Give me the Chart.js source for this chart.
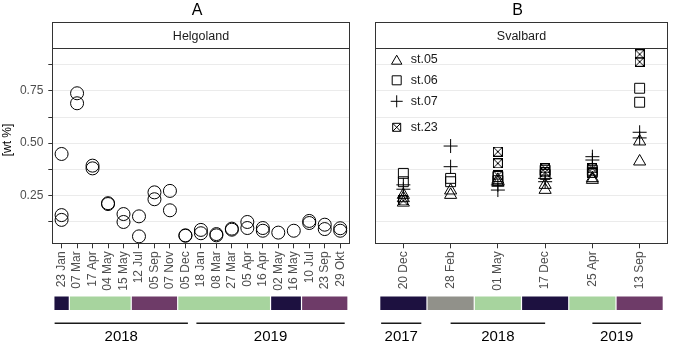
<!DOCTYPE html>
<html lang="en">
<head>
<meta charset="UTF-8" />
<title>Helgoland / Svalbard [wt %]</title>
<script src="https://cdn.jsdelivr.net/npm/chart.js"></script>
<style>
  html, body { margin: 0; padding: 0; background: #fff; overflow: hidden; }
  #wrap { position: relative; width: 673px; height: 341px; overflow: hidden; }
  #left { position: absolute; left: 0; top: 0; }
  #right { position: absolute; left: 360px; top: 0; }
</style>
</head>
<body>
<div id="wrap">
  <canvas id="left" width="360" height="341" style="width:360px;height:341px"></canvas>
  <canvas id="right" width="316" height="341" style="width:316px;height:341px"></canvas>
</div>

<script>
// ---- data ----
const helgolandDates = ['23 Jan', '07 Mar', '17 Apr', '04 May', '15 May', '12 Jul', '05 Sep', '07 Nov', '05 Dec',
  '18 Jan', '08 Mar', '27 Mar', '05 Apr', '16 Apr', '02 May', '16 May', '10 Jul', '23 Sep', '29 Okt'];
const helgolandWt = [
  [0.448, 0.155, 0.132], [0.739, 0.691], [0.392, 0.379], [0.212, 0.208], [0.160, 0.122],
  [0.149, 0.053], [0.264, 0.231], [0.271, 0.178], [0.056, 0.058], [0.084, 0.068],
  [0.064, 0.058], [0.090, 0.085], [0.122, 0.093], [0.093, 0.080], [0.071],
  [0.080], [0.127, 0.117], [0.109, 0.088], [0.092, 0.080]
];
const helgolandPhase = ['P1', 'P2', 'P2', 'P2', 'P2', 'P3', 'P3', 'P3', 'P2', 'P2',
  'P2', 'P2', 'P2', 'P2', 'P1', 'P1', 'P3', 'P3', 'P3'];
const helgolandYears = ['2018', '2019'];
const helgolandYearSpan = [[-0.45, 8.16], [8.71, 18.29]]; // in category units

const svalbardDates = ['20 Dec', '28 Feb', '01 May', '17 Dec', '25 Apr', '13 Sep'];
const st05 = [[0.252, 0.236, 0.215], [0.273, 0.252], [0.324, 0.310], [0.300, 0.276], [0.332, 0.324], [0.508, 0.412]];
const st06 = [[0.355, 0.315], [0.331, 0.315], [0.340, 0.320], [0.370, 0.350], [0.370, 0.360], [0.763, 0.696]];
const st07 = [[0.300, 0.279], [0.486, 0.387], [0.300, 0.275], [0.331, 0.315], [0.435, 0.419], [0.552, 0.525]];
const st23 = [[0.225], [], [0.459, 0.403, 0.345], [0.379, 0.360], [0.379, 0.355], [0.926, 0.890]];
const stationNames = ['st.05', 'st.06', 'st.07', 'st.23'];
const svalbardPhase = ['P1', 'P4', 'P2', 'P1', 'P2', 'P3'];
const svalbardYears = ['2017', '2018', '2019'];
const svalbardYearSpan = [[-0.47, 0.38], [1, 3], [4, 5.03]];

const yTickValues = [0.125, 0.25, 0.375, 0.5, 0.625, 0.75, 0.875];
const yTickLabels = ['', '0.25', '', '0.50', '', '0.75', ''];
const yMin = 0.015, yMax = 0.956;

// ---- styles ----
const FONT = "'Liberation Sans', Arial, sans-serif";
const phaseColours = { P1: '#1d1140', P2: '#a7d49e', P3: '#6e3b68', P4: '#91918a' };

function toPoints(groups) {
  const pts = [];
  groups.forEach((vals, i) => vals.forEach(v => pts.push({ x: i, y: v })));
  return pts;
}

// square with a cross inside (ggplot shape 7)
function boxCross(size) {
  const c = document.createElement('canvas');
  c.width = c.height = size;
  const g = c.getContext('2d');
  g.strokeStyle = '#000';
  g.lineWidth = 1;
  g.strokeRect(0.5, 0.5, size - 1, size - 1);
  g.beginPath();
  g.moveTo(0.5, 0.5); g.lineTo(size - 0.5, size - 0.5);
  g.moveTo(size - 0.5, 0.5); g.lineTo(0.5, size - 0.5);
  g.stroke();
  return c;
}
const boxCrossPoint = boxCross(10);

function xScale(labels) {
  return {
    type: 'linear',
    min: -0.6,
    max: labels.length - 0.4,
    afterBuildTicks: s => { s.ticks = labels.map((_, i) => ({ value: i })); },
    afterFit: s => { s.height = 341 - 244.3; },
    border: { display: false },
    grid: { drawOnChartArea: false, drawTicks: true, tickLength: 4, tickColor: '#333' },
    ticks: {
      autoSkip: false, minRotation: 90, maxRotation: 90, padding: 3,
      color: '#4d4d4d', font: { family: FONT, size: 12 },
      callback: v => labels[v]
    }
  };
}

function yScale(showLabels, width) {
  return {
    type: 'linear',
    min: yMin,
    max: yMax,
    afterBuildTicks: s => { s.ticks = yTickValues.map(v => ({ value: v })); },
    afterFit: s => { s.width = width; },
    border: { display: false },
    grid: { color: '#ebebeb', lineWidth: 1, drawTicks: showLabels, tickLength: 4, tickColor: '#333' },
    ticks: {
      display: showLabels, padding: 5,
      color: '#4d4d4d', font: { family: FONT, size: 12 },
      callback: v => yTickLabels[yTickValues.indexOf(v)]
    }
  };
}

// strip, frame, title letter, season bar and year brackets
const panelDeco = {
  id: 'panelDeco',
  afterDraw(chart, args, o) {
    const { ctx, chartArea: a } = chart;
    const x = chart.scales.x;
    const L = Math.round(a.left) + 0.5, R = Math.round(a.right) - 0.5;
    const T = Math.round(a.top) + 0.5, B = Math.round(a.bottom) - 0.5;
    ctx.save();
    ctx.strokeStyle = '#333';
    ctx.lineWidth = 1;
    ctx.fillStyle = '#fff';
    ctx.fillRect(L, 22.5, R - L, T - 22.5);
    ctx.strokeRect(L, 22.5, R - L, T - 22.5);
    ctx.strokeRect(L, T, R - L, B - T);

    ctx.fillStyle = '#1a1a1a';
    ctx.textAlign = 'center';
    ctx.textBaseline = 'alphabetic';
    ctx.font = '12.5px ' + FONT;
    ctx.fillText(o.strip, (L + R) / 2, 39.5);

    ctx.fillStyle = '#000';
    ctx.font = '16px ' + FONT;
    ctx.fillText(o.letter, (L + R) / 2 - 4, 14.5);

    if (o.yTitle) {
      ctx.save();
      ctx.translate(8, 140);
      ctx.rotate(-Math.PI / 2);
      ctx.font = '12px ' + FONT;
      ctx.textBaseline = 'middle';
      ctx.fillText(o.yTitle, 0, 0);
      ctx.restore();
    }

    // season bar, consecutive equal phases merged
    const ph = o.phases;
    let i = 0;
    while (i < ph.length) {
      let j = i;
      while (j + 1 < ph.length && ph[j + 1] === ph[i]) j++;
      const x0 = x.getPixelForValue(i - 0.5) + 0.6;
      const x1 = x.getPixelForValue(j + 0.5) - 0.6;
      ctx.fillStyle = phaseColours[ph[i]];
      ctx.fillRect(x0, 296.5, x1 - x0, 13.5);
      i = j + 1;
    }

    // year brackets
    ctx.strokeStyle = '#1a1a1a';
    ctx.lineWidth = 1.6;
    ctx.fillStyle = '#000';
    ctx.font = '15px ' + FONT;
    o.years.forEach((yr, k) => {
      const x0 = x.getPixelForValue(o.yearSpan[k][0]);
      const x1 = x.getPixelForValue(o.yearSpan[k][1]);
      ctx.beginPath();
      ctx.moveTo(x0, 323.3);
      ctx.lineTo(x1, 323.3);
      ctx.stroke();
      ctx.fillText(yr, (x0 + x1) / 2, 340.7);
    });
    ctx.restore();
  }
};

// in-panel legend for the stations
const stationLegend = {
  id: 'stationLegend',
  afterDraw(chart, args, o) {
    if (!o.names) return;
    const { ctx, chartArea: a } = chart;
    const rows = [11.7, 32.3, 53.3, 79.3];
    const kx = a.left + 21.7, tx = a.left + 35.7;
    ctx.save();
    ctx.strokeStyle = '#000';
    ctx.lineWidth = 1;
    o.names.forEach((name, k) => {
      const y = a.top + rows[k];
      ctx.beginPath();
      if (k === 0) {
        ctx.moveTo(kx, y - 4.5); ctx.lineTo(kx + 5.2, y + 4.5); ctx.lineTo(kx - 5.2, y + 4.5); ctx.closePath();
      } else if (k === 1) {
        ctx.rect(kx - 4.5, y - 4.5, 9, 9);
      } else if (k === 2) {
        ctx.moveTo(kx - 6, y); ctx.lineTo(kx + 6, y);
        ctx.moveTo(kx, y - 6); ctx.lineTo(kx, y + 6);
      } else {
        ctx.rect(kx - 4, y - 4, 8, 8);
        ctx.moveTo(kx - 4, y - 4); ctx.lineTo(kx + 4, y + 4);
        ctx.moveTo(kx + 4, y - 4); ctx.lineTo(kx - 4, y + 4);
      }
      ctx.stroke();
      ctx.fillStyle = '#1a1a1a';
      ctx.font = '12.5px ' + FONT;
      ctx.textAlign = 'left';
      ctx.textBaseline = 'middle';
      ctx.fillText(name, tx, y);
    });
    ctx.restore();
  }
};

const pointBase = { borderColor: '#000', backgroundColor: 'rgba(0,0,0,0)', borderWidth: 1, clip: false };

new Chart(document.getElementById('left'), {
  type: 'scatter',
  data: {
    datasets: [{ ...pointBase, data: toPoints(helgolandWt), pointStyle: 'circle', pointRadius: 6.5 }]
  },
  options: {
    responsive: false,
    animation: false,
    events: [],
    layout: { padding: { top: 48, right: 10.5, left: 0, bottom: 0 } },
    scales: { x: xScale(helgolandDates), y: yScale(true, 52.3) },
    plugins: {
      legend: { display: false },
      tooltip: { enabled: false },
      panelDeco: {
        letter: 'A', strip: 'Helgoland', yTitle: '[wt %]',
        phases: helgolandPhase, years: helgolandYears, yearSpan: helgolandYearSpan
      },
      stationLegend: {}
    }
  },
  plugins: [panelDeco, stationLegend]
});

new Chart(document.getElementById('right'), {
  type: 'scatter',
  data: {
    datasets: [
      { ...pointBase, label: stationNames[0], data: toPoints(st05), pointStyle: 'triangle', pointRadius: 7 },
      { ...pointBase, label: stationNames[1], data: toPoints(st06), pointStyle: 'rect', pointRadius: 7 },
      { ...pointBase, label: stationNames[2], data: toPoints(st07), pointStyle: 'cross', pointRadius: 7 },
      { ...pointBase, label: stationNames[3], data: toPoints(st23), pointStyle: boxCrossPoint, pointRadius: 7 }
    ]
  },
  options: {
    responsive: false,
    animation: false,
    events: [],
    layout: { padding: { top: 48, right: 4, left: 0, bottom: 0 } },
    scales: { x: xScale(svalbardDates), y: yScale(false, 15) },
    plugins: {
      legend: { display: false },
      tooltip: { enabled: false },
      panelDeco: {
        letter: 'B', strip: 'Svalbard',
        phases: svalbardPhase, years: svalbardYears, yearSpan: svalbardYearSpan
      },
      stationLegend: { names: stationNames }
    }
  },
  plugins: [panelDeco, stationLegend]
});
</script>
</body>
</html>
